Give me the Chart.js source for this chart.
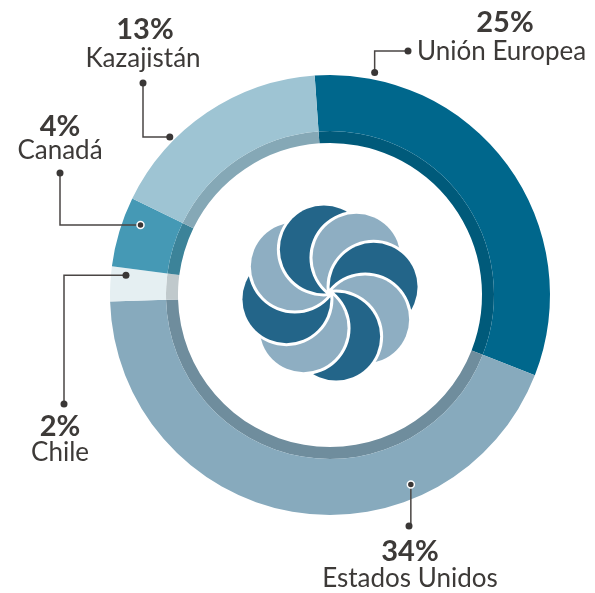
<!DOCTYPE html>
<html>
<head>
<meta charset="utf-8">
<script src="https://cdn.jsdelivr.net/npm/chart.js@4/dist/chart.umd.min.js"></script>
<style>
  html, body { margin: 0; padding: 0; background: #fff; }
  #contenedor { width: 595px; height: 593px; }
</style>
</head>
<body>
<div id="contenedor"><canvas id="graficaPaises"></canvas></div>
<script>
// Datos
const paises = ['Unión Europea', 'Estados Unidos', 'Chile', 'Canadá', 'Kazajistán'];
const porcentajes = [25, 34, 2, 4, 13];

const colores = ['#00678c', '#87aabd', '#e5eff2', '#4599b5', '#9ec4d3'];
const coloresSombra = ['#005a7a', '#6f8d9d', '#c0c9cc', '#3c8399', '#85a8b6'];

// Posición de cada etiqueta: punto sobre el arco (fracción, radio), punto final y textos
const etiquetas = [
  { f: 0.133, r: 227, fin: [408, 51], codo: 'v', pct: [505, 23], nom: [417, 52], alin: 'left', anillo: false },
  { f: 0.29, r: 206, fin: [409, 526], codo: 'v', pct: [410, 552], nom: [410, 579], alin: 'center', anillo: true },
  { f: 0.78, r: 205, fin: [64, 404], codo: 'h', pct: [60, 427], nom: [60, 453], alin: 'center', anillo: false },
  { f: 0.69, r: 202, fin: [60, 173], codo: 'h', pct: [60, 127], nom: [60, 151], alin: 'center', anillo: true },
  { f: 0.31, r: 225, fin: [143, 83], codo: 'h', pct: [145, 30], nom: [143, 59], alin: 'center', anillo: false }
];

function punto(ctx, x, y, anillo) {
  ctx.beginPath();
  ctx.arc(x, y, 3.5, 0, Math.PI * 2);
  ctx.fillStyle = '#3a3736';
  ctx.fill();
  if (anillo) {
    ctx.lineWidth = 1.5;
    ctx.strokeStyle = '#ffffff';
    ctx.stroke();
  }
}

const pluginEtiquetas = {
  id: 'etiquetas',
  afterDraw(chart) {
    const ctx = chart.ctx;
    const arcos = chart.getDatasetMeta(0).data;
    ctx.save();
    arcos.forEach((arco, i) => {
      const e = etiquetas[i];
      const a = arco.startAngle + e.f * (arco.endAngle - arco.startAngle);
      const ax = arco.x + e.r * Math.cos(a);
      const ay = arco.y + e.r * Math.sin(a);
      const cx = e.codo === 'v' ? ax : e.fin[0];
      const cy = e.codo === 'v' ? e.fin[1] : ay;
      ctx.beginPath();
      ctx.moveTo(ax, ay);
      ctx.lineTo(cx, cy);
      ctx.lineTo(e.fin[0], e.fin[1]);
      ctx.strokeStyle = '#4a4644';
      ctx.lineWidth = 1.5;
      ctx.stroke();
      punto(ctx, ax, ay, e.anillo);
      punto(ctx, e.fin[0], e.fin[1], false);

      ctx.fillStyle = '#3d3a38';
      ctx.textBaseline = 'middle';
      ctx.textAlign = 'center';
      ctx.font = 'bold 29px Lato';
      ctx.fillText(porcentajes[i] + '%', e.pct[0], e.pct[1]);
      ctx.textAlign = e.alin;
      ctx.font = '26px Lato';
      ctx.fillText(paises[i], e.nom[0], e.nom[1]);
    });
    ctx.restore();
  }
};

// Logo central (molinillo de 8 pétalos en forma de media luna)
const pluginLogo = {
  id: 'logo',
  afterDraw(chart) {
    const ctx = chart.ctx;
    const arco = chart.getDatasetMeta(0).data[0];
    const cx = arco.x, cy = arco.y - 2;
    const r = 44, hueco = 3;
    const tonos = ['#236589', '#8eaec2'];
    const base = -Math.PI / 2 - 0.14;
    const centro = k => {
      const t = base + k * Math.PI / 4;
      return [cx + r * Math.cos(t), cy + r * Math.sin(t)];
    };
    for (let k = 0; k < 8; k++) {
      ctx.save();
      // quitar los pétalos que quedan encima (los tres siguientes)
      for (let j = 1; j <= 3; j++) {
        const [x, y] = centro(k + j);
        ctx.beginPath();
        ctx.rect(0, 0, chart.width, chart.height);
        ctx.moveTo(x + r + hueco, y);
        ctx.arc(x, y, r + hueco, 0, Math.PI * 2);
        ctx.clip('evenodd');
      }
      const [x, y] = centro(k);
      ctx.beginPath();
      ctx.arc(x, y, r, 0, Math.PI * 2);
      ctx.fillStyle = tonos[k % 2];
      ctx.fill();
      ctx.restore();
    }
  }
};

function crearGraficoPaises() {
  const ctx = document.getElementById('graficaPaises').getContext('2d');
  return new Chart(ctx, {
    type: 'doughnut',
    data: {
      labels: paises,
      datasets: [{
        data: porcentajes,
        backgroundColor: colores,
        borderWidth: 0,
        weight: 56
      }, {
        data: porcentajes,
        backgroundColor: coloresSombra,
        borderWidth: 0,
        weight: 12
      }]
    },
    options: {
      responsive: true,
      maintainAspectRatio: false,
      animation: false,
      rotation: -4,
      cutout: '69.1%',
      layout: { padding: { left: 110, right: 45, top: 75, bottom: 78 } },
      plugins: {
        legend: { display: false },
        tooltip: { enabled: false }
      }
    },
    plugins: [pluginLogo, pluginEtiquetas]
  });
}

crearGraficoPaises();
</script>
</body>
</html>
